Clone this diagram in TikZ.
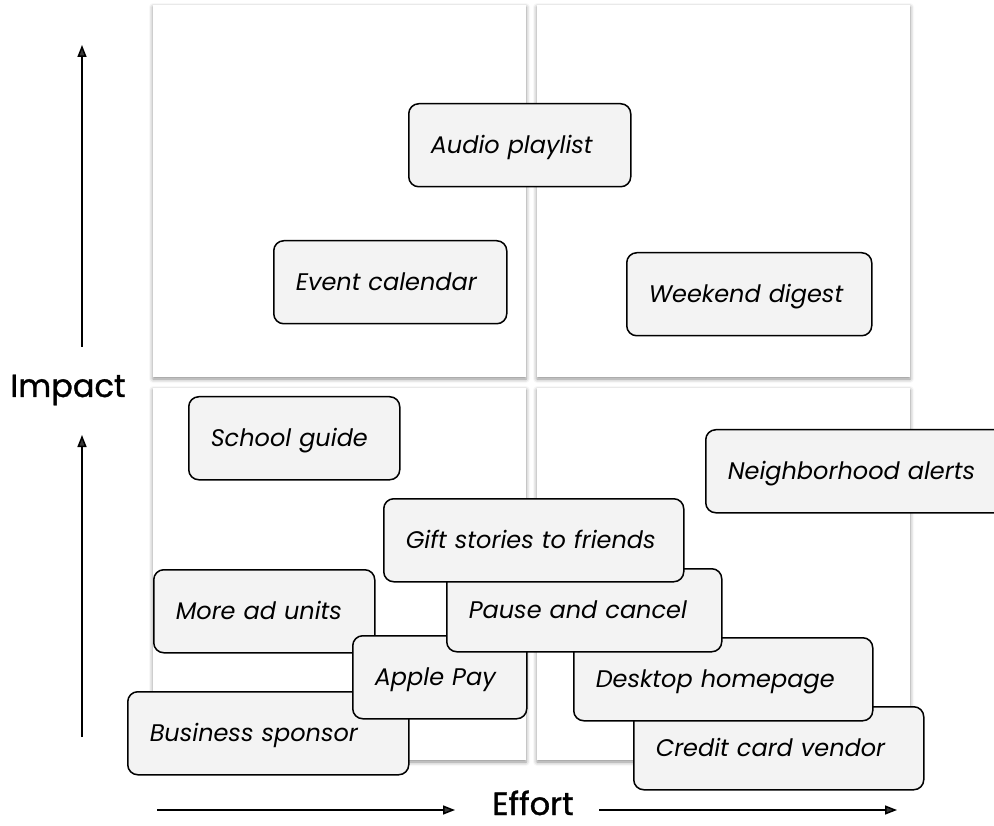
\documentclass[tikz,border=0pt]{standalone}
\usepackage{fontspec}
\setmainfont{Poppins}
\newfontfamily\axisfont[FakeBold=1.1]{Poppins}
\usetikzlibrary{arrows.meta,shadows.blur}

\definecolor{cardfill}{HTML}{F3F3F3}

\tikzset{
  panel/.style={fill=white, draw=none,
    blur shadow={shadow xshift=0pt, shadow yshift=-2pt,
                 shadow blur radius=4pt, shadow opacity=45}},
  card/.style={draw=black, line width=1.5pt, fill=cardfill,
    rounded corners=10pt, anchor=north west,
    minimum height=83pt, inner xsep=22pt, inner ysep=0pt,
    align=left, font=\fontsize{24}{28}\selectfont\itshape,
    text height=17pt, text depth=0pt},
  axislabel/.style={font=\axisfont\fontsize{32}{37}\selectfont, anchor=base,
    inner sep=0pt},
  axisarrow/.style={line width=1.5pt, -{Triangle[length=12pt,width=9pt]}}
}

\newcommand{\card}[5]{%
  \node[card, minimum width=#4pt, text width=#4pt-44pt] (#1) at (#2,#3) {#5};}

\begin{document}
\begin{tikzpicture}[x=1pt,y=-1pt]
  \useasboundingbox (0,0) rectangle (994,826);

  % four quadrant panels
  \path[panel] (153,5) rectangle (526,377);
  \path[panel] (537,5) rectangle (910,377);
  \path[panel] (153,388) rectangle (526,760);
  \path[panel] (537,388) rectangle (910,760);

  % feature cards, back to front
  \card{audio}{408}{103}{222}{Audio playlist}
  \card{event}{273}{240}{233}{Event calendar}
  \card{weekend}{626}{252}{245}{Weekend digest}
  \card{school}{188}{396}{211}{School guide}
  \card{alerts}{705}{429}{320}{Neighborhood alerts}
  \card{credit}{633}{706}{290}{Credit card vendor}
  \card{desktop}{573}{637}{299}{Desktop homepage}
  \card{business}{127}{691}{281}{Business sponsor}
  \card{adunits}{153}{569}{221}{More ad units}
  \card{applepay}{352}{635}{174}{Apple Pay}
  \card{pause}{446}{568}{275}{Pause and cancel}
  \card{gift}{383}{498}{300}{Gift stories to friends}

  % axis labels
  \node[axislabel] (impact) at (68,397) {Impact};
  \node[axislabel] (effort) at (533,815) {Effort};

  % axis arrows
  \coordinate (iupTail) at (82,347);
  \coordinate (iupHead) at (82,45);
  \coordinate (ilowTail) at (82,737);
  \coordinate (ilowHead) at (82,435);
  \coordinate (eleftTail) at (157,810);
  \coordinate (eleftHead) at (455,810);
  \coordinate (erightTail) at (599,810);
  \coordinate (erightHead) at (897,810);
  \draw[axisarrow] (iupTail) -- (iupHead);
  \draw[axisarrow] (ilowTail) -- (ilowHead);
  \draw[axisarrow] (eleftTail) -- (eleftHead);
  \draw[axisarrow] (erightTail) -- (erightHead);
\end{tikzpicture}
\end{document}
